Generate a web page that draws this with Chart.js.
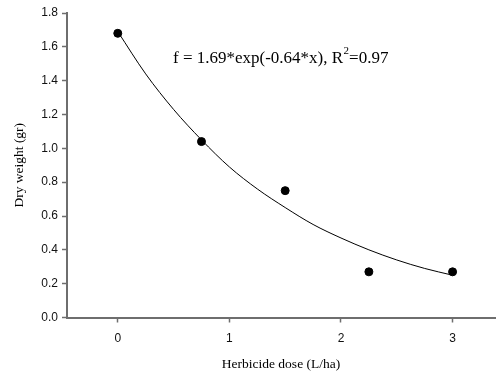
<!DOCTYPE html>
<html>
<head>
<meta charset="utf-8">
<script src="https://cdn.jsdelivr.net/npm/chart.js@4/dist/chart.umd.min.js"></script>
<style>
  html, body { margin: 0; padding: 0; background: #fff; }
  #wrap { width: 500px; height: 373px; }
</style>
</head>
<body>
<div id="wrap"><canvas id="myChart" width="500" height="373"></canvas></div>
<script>
// observed points
const doseValues = [0, 0.75, 1.5, 2.25, 3];
const weightValues = [1.68, 1.04, 0.75, 0.27, 0.27];

// fitted curve
const curveDose = [0, 0.25, 0.5, 0.75, 1, 1.25, 1.5, 1.75, 2, 2.25, 2.5, 2.75, 3];
const curveWeight = [1.69, 1.44, 1.23, 1.05, 0.89, 0.76, 0.65, 0.55, 0.47, 0.4, 0.34, 0.29, 0.25];

const xTicks = [0, 1, 2, 3];
const yTicks = [0, 0.2, 0.4, 0.6, 0.8, 1.0, 1.2, 1.4, 1.6, 1.8];

const axisColor = "#6e6e6e";
const tickFont = { family: "Liberation Sans, Arial", size: 12 };
const titleFont = { family: "Liberation Serif, Times New Roman", size: 13.5 };

// equation label inside the plot
const equationLabel = {
  id: "equationLabel",
  afterDatasetsDraw(chart) {
    const ctx = chart.ctx;
    ctx.save();
    ctx.fillStyle = "#000";
    ctx.textBaseline = "alphabetic";
    ctx.font = "17px 'Liberation Serif', 'Times New Roman'";
    let x = 173;
    const y = 63;
    const part1 = "f = 1.69*exp(-0.64*x), R";
    ctx.fillText(part1, x, y);
    x += ctx.measureText(part1).width;
    ctx.font = "11px 'Liberation Serif', 'Times New Roman'";
    ctx.fillText("2", x + 0.5, y - 9);
    x += ctx.measureText("2").width + 0.5;
    ctx.font = "17px 'Liberation Serif', 'Times New Roman'";
    ctx.fillText("=0.97", x, y);
    ctx.restore();
  },
};

const ctx = document.getElementById("myChart").getContext("2d");
new Chart(ctx, {
  type: "scatter",
  data: {
    datasets: [
      {
        label: "fit",
        type: "line",
        data: curveDose.map((d, i) => ({ x: d, y: curveWeight[i] })),
        borderColor: "#000",
        borderWidth: 1,
        pointRadius: 0,
        fill: false,
        cubicInterpolationMode: "monotone",
      },
      {
        label: "data",
        data: doseValues.map((d, i) => ({ x: d, y: weightValues[i] })),
        backgroundColor: "#000",
        borderColor: "#000",
        pointRadius: 4,
        pointHoverRadius: 4,
      },
    ],
  },
  options: {
    responsive: false,
    animation: false,
    layout: { padding: { top: 13, right: 0, left: 0, bottom: 0 } },
    plugins: { legend: { display: false }, tooltip: { enabled: false } },
    scales: {
      x: {
        type: "linear",
        min: -0.455,
        max: 3.38,
        afterBuildTicks(axis) {
          axis.ticks = xTicks.map((v) => ({ value: v }));
        },
        afterFit(axis) {
          axis.height = 55.5;
        },
        grid: { drawOnChartArea: false, tickLength: 5, tickColor: axisColor, tickWidth: 1.5 },
        border: { color: axisColor, width: 2 },
        ticks: { color: "#111", font: tickFont, padding: 9 },
        title: {
          display: true,
          text: "Herbicide dose (L/ha)",
          color: "#000",
          font: titleFont,
          padding: { top: 0, bottom: 0 },
        },
      },
      y: {
        type: "linear",
        min: 0,
        max: 1.8,
        afterBuildTicks(axis) {
          axis.ticks = yTicks.map((v) => ({ value: v }));
        },
        afterFit(axis) {
          axis.width = 67;
        },
        grid: { drawOnChartArea: false, tickLength: 5, tickColor: axisColor, tickWidth: 1.5 },
        border: { color: axisColor, width: 2 },
        ticks: {
          color: "#111",
          font: tickFont,
          padding: 4,
          callback: (v) => v.toFixed(1),
        },
        title: {
          display: true,
          text: "Dry weight (gr)",
          color: "#000",
          font: titleFont,
          padding: { top: 11, bottom: 0 },
        },
      },
    },
  },
  plugins: [equationLabel],
});
</script>
</body>
</html>
